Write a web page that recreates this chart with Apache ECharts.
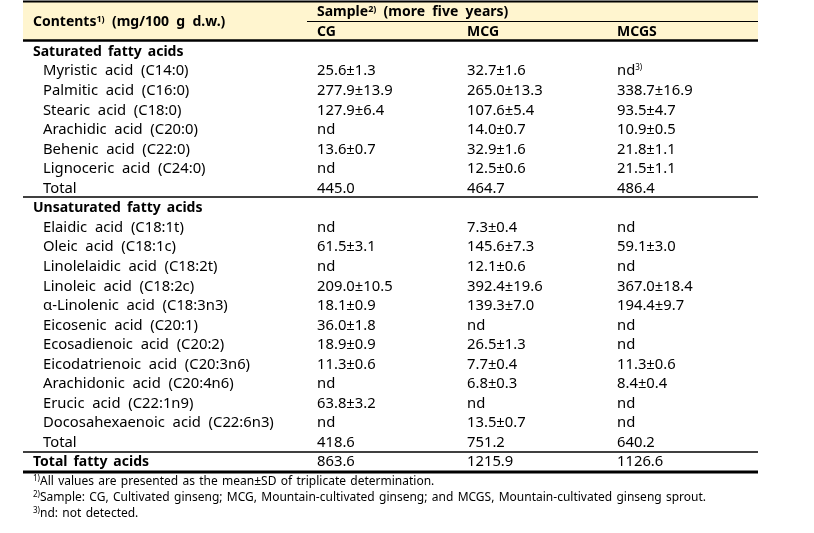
<!DOCTYPE html>
<html><head><meta charset="utf-8">
<script src="https://cdn.jsdelivr.net/npm/echarts@6/dist/echarts.min.js"></script>
<style>html,body{margin:0;padding:0;background:#fff}#c{width:814px;height:533px}</style>
</head><body><div id="c"></div>
<script>
// ---- data ----
var columns = ['CG', 'MCG', 'MCGS'];
var rowLabels = [
  'Saturated fatty acids',
  'Myristic acid (C14:0)', 'Palmitic acid (C16:0)', 'Stearic acid (C18:0)',
  'Arachidic acid (C20:0)', 'Behenic acid (C22:0)', 'Lignoceric acid (C24:0)', 'Total',
  'Unsaturated fatty acids',
  'Elaidic acid (C18:1t)', 'Oleic acid (C18:1c)', 'Linolelaidic acid (C18:2t)',
  'Linoleic acid (C18:2c)', 'α-Linolenic acid (C18:3n3)', 'Eicosenic acid (C20:1)',
  'Ecosadienoic acid (C20:2)', 'Eicodatrienoic acid (C20:3n6)', 'Arachidonic acid (C20:4n6)',
  'Erucic acid (C22:1n9)', 'Docosahexaenoic acid (C22:6n3)', 'Total',
  'Total fatty acids'
];
var rowKinds = ['group','item','item','item','item','item','item','item',
  'group','item','item','item','item','item','item','item','item','item','item','item','item','grand'];
var cgValues = ['', '25.6±1.3', '277.9±13.9', '127.9±6.4', 'nd', '13.6±0.7', 'nd', '445.0',
  '', 'nd', '61.5±3.1', 'nd', '209.0±10.5', '18.1±0.9', '36.0±1.8', '18.9±0.9', '11.3±0.6', 'nd', '63.8±3.2', 'nd', '418.6',
  '863.6'];
var mcgValues = ['', '32.7±1.6', '265.0±13.3', '107.6±5.4', '14.0±0.7', '32.9±1.6', '12.5±0.6', '464.7',
  '', '7.3±0.4', '145.6±7.3', '12.1±0.6', '392.4±19.6', '139.3±7.0', 'nd', '26.5±1.3', '7.7±0.4', '6.8±0.3', 'nd', '13.5±0.7', '751.2',
  '1215.9'];
var mcgsValues = ['', 'nd{sup|3)}', '338.7±16.9', '93.5±4.7', '10.9±0.5', '21.8±1.1', '21.5±1.1', '486.4',
  '', 'nd', '59.1±3.0', 'nd', '367.0±18.4', '194.4±9.7', 'nd', 'nd', '11.3±0.6', '8.4±0.4', 'nd', 'nd', '640.2',
  '1126.6'];
var headerTitle = 'Contents{supb|1)} (mg/100 g d.w.)';
var headerSample = 'Sample{supb|2)} (more five years)';
var footnotes = [
  '{sup|1)}All values are presented as the mean±SD of triplicate determination.',
  '{sup|2)}Sample: CG, Cultivated ginseng; MCG, Mountain-cultivated ginseng; and MCGS, Mountain-cultivated ginseng sprout.',
  '{sup|3)}nd: not detected.'
];

// ---- layout ----
var FONT = '"Noto Sans", "Noto Sans CJK KR", sans-serif';
var FS = 14.8, BFS = 14, FFS = 12;
var L = 23, R = 758;
var colX = [317, 467, 617];
var y0 = 51.7, step = 19.55;
var rich = {
  sup: {fontSize: 8, fontFamily: FONT, verticalAlign: 'top', fill: '#000', padding: [0,0,6,0]},
  supb: {fontSize: 9, fontFamily: FONT, fontWeight: 'bold', verticalAlign: 'top', fill: '#000', padding: [0,0,6,0]}
};
function wide(s) { return s.replace(/ /g, '  '); }
function mid(s) { return s.replace(/ /g, ' \u2009'); }
function foot(s) { return s.replace(/ /g, ' \u200A'); }
function txt(s, x, y, bold, size) {
  return {type: 'text', x: x, y: y, silent: true, style: {
    text: s, fill: '#000', fontFamily: FONT, fontSize: size || (bold ? BFS : FS),
    fontWeight: bold ? 'bold' : 'normal', verticalAlign: 'middle', align: 'left',
    rich: rich
  }};
}
function hline(x1, x2, y, w) {
  return {type: 'line', silent: true, shape: {x1: x1, y1: y, x2: x2, y2: y}, style: {stroke: '#000', lineWidth: w}};
}
var els = [];
els.push({type: 'rect', silent: true, shape: {x: L, y: 1, width: R - L, height: 39}, style: {fill: '#fff5cf'}});
els.push(hline(L, R, 1.5, 2));
els.push(hline(307, R, 21.5, 1));
els.push(hline(L, R, 40.5, 2.5));
els.push(txt(wide(headerTitle), 33, 22.5, true));
els.push(txt(wide(headerSample), colX[0], 12.5, true));
columns.forEach(function (c, i) { els.push(txt(c, colX[i], 32, true)); });
var vals = [cgValues, mcgValues, mcgsValues];
rowLabels.forEach(function (lab, r) {
  var y = y0 + r * step;
  var k = rowKinds[r];
  if (k === 'item') els.push(txt(wide(lab), 43, y, false));
  else els.push(txt(mid(lab), 33, y, true));
  vals.forEach(function (arr, c) { if (arr[r]) els.push(txt(arr[r], colX[c], y, false)); });
});
els.push(hline(L, R, 197, 1.5));
els.push(hline(L, R, 452, 1.5));
els.push(hline(L, R, 472, 3));
footnotes.forEach(function (f, i) { els.push(txt(foot(f), 33, 481.7 + i * 15.8, false, FFS)); });

var chart = echarts.init(document.getElementById('c'), null, {renderer: 'canvas'});
chart.setOption({animation: false, backgroundColor: '#fff', graphic: {elements: els}});
</script></body></html>
